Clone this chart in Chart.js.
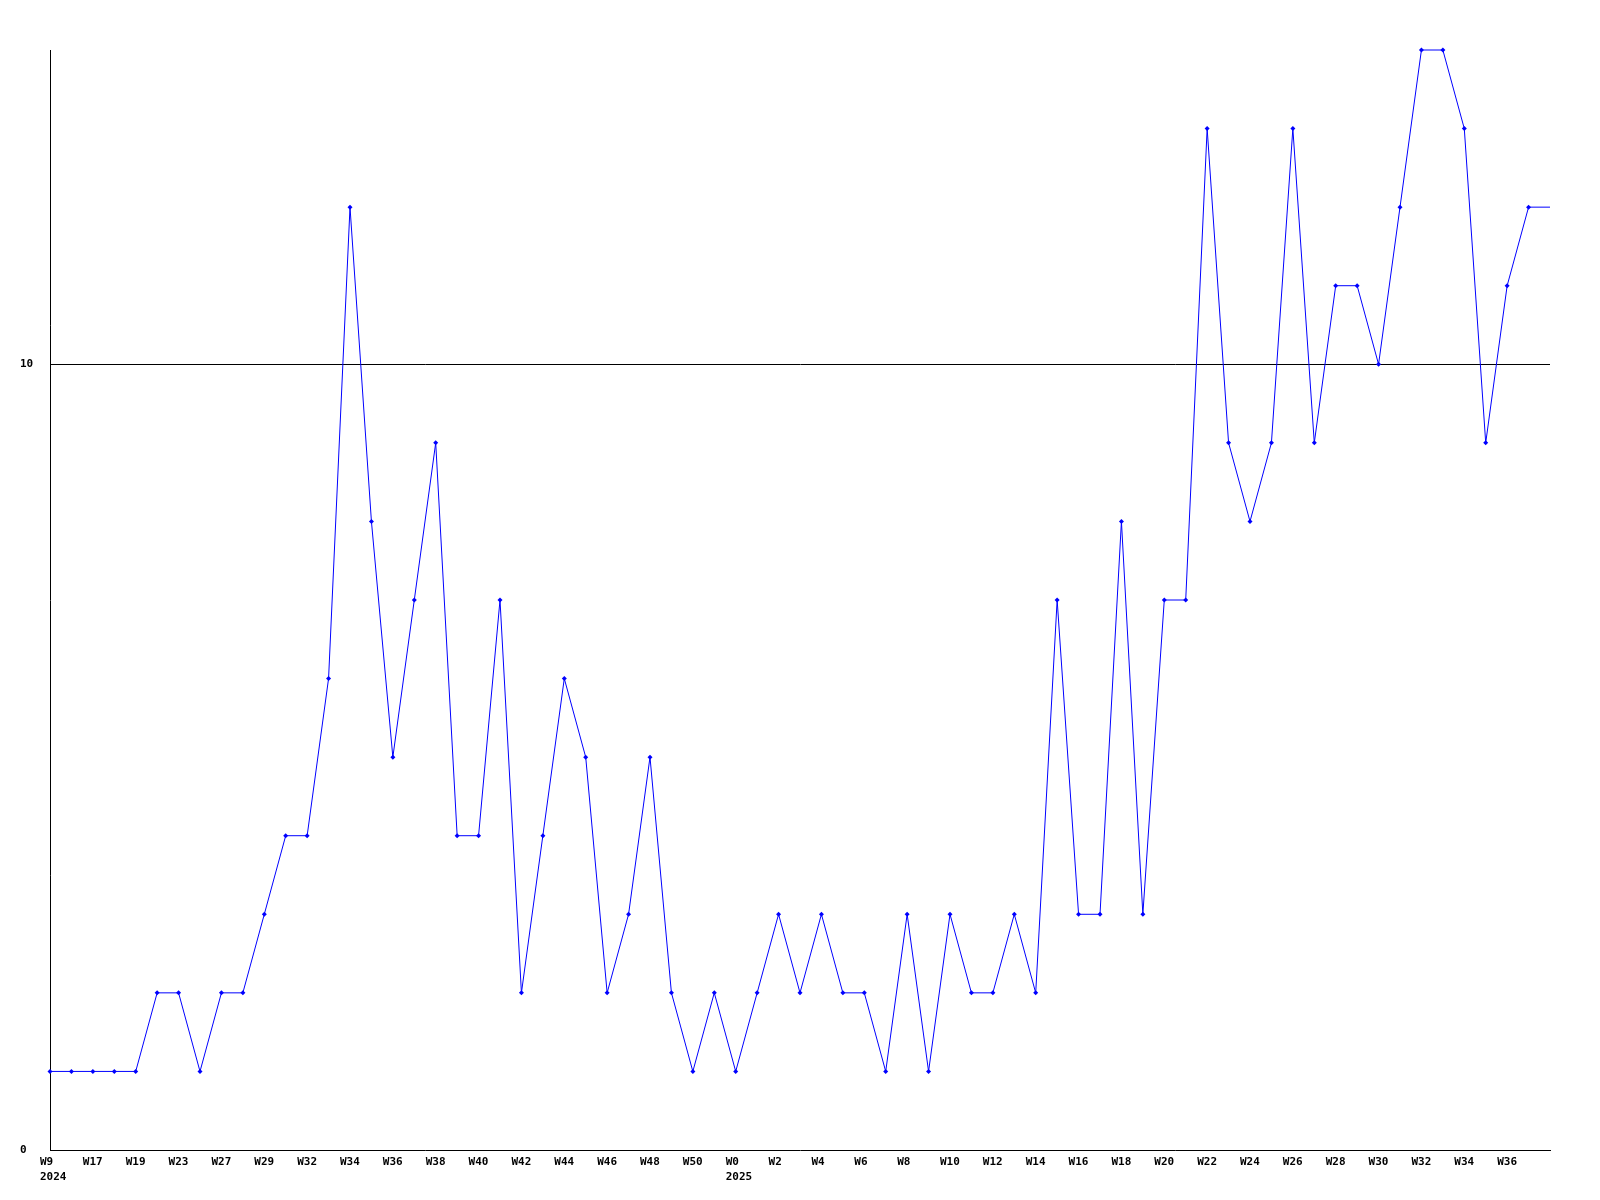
<!DOCTYPE html>
<html>
<head>
<meta charset="utf-8">
<script src="https://cdn.jsdelivr.net/npm/chart.js@4/dist/chart.umd.min.js"></script>
<style>
  html, body { margin: 0; padding: 0; background: #fff; }
  #wrap { width: 1600px; height: 1200px; }
</style>
</head>
<body>
<div id="wrap"><canvas id="chart" width="1600" height="1200"></canvas></div>
<script>
// week labels, one per data point (only every other one is printed)
const weeks = [
  "W9", "W16", "W17", "W18", "W19", "W22", "W23", "W26", "W27", "W28",
  "W29", "W31", "W32", "W33", "W34", "W35", "W36", "W37", "W38", "W39",
  "W40", "W41", "W42", "W43", "W44", "W45", "W46", "W47", "W48", "W49",
  "W50", "W51", "W0", "W1", "W2", "W3", "W4", "W5", "W6", "W7",
  "W8", "W9", "W10", "W11", "W12", "W13", "W14", "W15", "W16", "W17",
  "W18", "W19", "W20", "W21", "W22", "W23", "W24", "W25", "W26", "W27",
  "W28", "W29", "W30", "W31", "W32", "W33", "W34", "W35", "W36", "W37",
  "W38"
];
// year shown under the first week of each year
const yearIndex = [0, 32];
const yearText = ["2024", "2025"];

const counts = [
  1, 1, 1, 1, 1, 2, 2, 1, 2, 2,
  3, 4, 4, 6, 12, 8, 5, 7, 9, 4,
  4, 7, 2, 4, 6, 5, 2, 3, 5, 2,
  1, 2, 1, 2, 3, 2, 3, 2, 2, 1,
  3, 1, 3, 2, 2, 3, 2, 7, 3, 3,
  8, 3, 7, 7, 13, 9, 8, 9, 13, 9,
  11, 11, 10, 12, 14, 14, 13, 9, 11, 12,
  12
];

const yTicks = [0, 10];
const FONT = "bold 11px 'DejaVu Sans Mono', monospace";

// draws x labels left-aligned a bit before each tick, like the original
const xLabelPlugin = {
  id: "xLabels",
  afterDraw(chart) {
    const ctx = chart.ctx;
    const x = chart.scales.x;
    ctx.save();
    ctx.font = FONT;
    ctx.fillStyle = "#000";
    ctx.textAlign = "left";
    ctx.textBaseline = "top";
    for (let i = 0; i < weeks.length - 1; i += 2) {
      const px = x.getPixelForValue(i);
      ctx.fillText(weeks[i], px - 10, 1157);
      const yi = yearIndex.indexOf(i);
      if (yi >= 0) ctx.fillText(yearText[yi], px - 10, 1172);
    }
    ctx.restore();
  }
};

new Chart(document.getElementById("chart").getContext("2d"), {
  type: "line",
  data: {
    labels: weeks,
    datasets: [{
      data: counts,
      borderColor: "#0000ff",
      backgroundColor: "#0000ff",
      borderWidth: 1,
      tension: 0,
      clip: false,
      pointStyle: "rectRot",
      pointRadius: counts.map((v, i) => (i === counts.length - 1 ? 0 : 2.5)),
      pointBorderWidth: 0,
    }],
  },
  options: {
    responsive: false,
    animation: false,
    layout: { padding: { left: 20, top: 50, right: 50, bottom: 0 } },
    plugins: { legend: { display: false }, tooltip: { enabled: false } },
    scales: {
      x: {
        offset: false,
        grid: { display: false, drawTicks: false },
        border: { display: true, color: "#000", width: 1 },
        ticks: { display: false },
        afterFit: (s) => { s.height = 50; },
      },
      y: {
        min: 0,
        max: 14,
        afterBuildTicks: (s) => { s.ticks = yTicks.map((v) => ({ value: v })); },
        afterFit: (s) => { s.width = 30; },
        grid: {
          drawTicks: false,
          color: (c) => (c.tick && c.tick.value === 10 ? "#000" : "rgba(0,0,0,0)"),
          lineWidth: 1,
        },
        border: { display: true, color: "#000", width: 1 },
        ticks: {
          crossAlign: "far",
          padding: 0,
          color: "#000",
          font: { family: "'DejaVu Sans Mono', monospace", size: 11, weight: "bold" },
        },
      },
    },
  },
  plugins: [xLabelPlugin],
});
</script>
</body>
</html>
